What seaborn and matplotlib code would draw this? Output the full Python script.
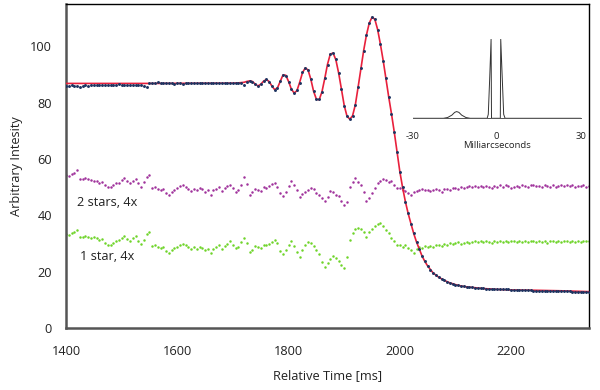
import numpy as np
import pandas as pd
import matplotlib
matplotlib.use("Agg")
import matplotlib.pyplot as plt
import seaborn as sns

# ---------------- data ----------------
time_ms = np.arange(1400, 2345, 5)

star_intensity = [
    86.0, 85.8, 86.1, 85.9, 86.0, 85.6, 86.0, 86.1, 85.9, 86.2,
    86.1, 86.3, 86.2, 86.4, 86.2, 86.3, 86.4, 86.2, 86.3, 86.5,
    86.3, 86.4, 86.3, 86.2, 86.4, 86.3, 86.1, 86.3, 86.0, 85.4,
    86.8, 86.9, 87.0, 87.3, 87.1, 86.9, 87.0, 86.8, 86.9, 86.7,
    86.8, 86.9, 86.7, 86.8, 86.9, 87.0, 86.8, 86.9, 87.1, 86.9,
    87.0, 86.8, 86.9, 87.1, 86.9, 87.0, 86.8, 87.0, 86.9, 86.8,
    87.0, 86.9, 87.1, 86.8, 86.2, 87.3, 87.8, 87.4, 86.5, 85.9,
    86.6, 87.6, 88.3, 87.4, 85.8, 84.5, 85.3, 87.6, 89.9, 89.6,
    87.4, 84.9, 83.3, 84.3, 87.1, 90.7, 92.2, 91.7, 88.2, 84.1,
    81.1, 81.1, 83.7, 88.6, 93.5, 97.3, 97.5, 95.3, 90.4, 84.9,
    78.9, 75.3, 74.0, 75.4, 79.1, 85.6, 92.1, 98.4, 104.1, 108.3,
    110.3, 109.7, 105.9, 100.9, 94.9, 88.6, 81.9, 76.1, 69.4, 62.6,
    55.4, 49.9, 44.7, 40.7, 36.9, 33.6, 30.4, 28.1, 25.4, 23.7,
    21.9, 20.6, 19.6, 18.7, 18.0, 17.4, 16.9, 16.4, 16.0, 15.7,
    15.4, 15.1, 14.9, 14.8, 14.6, 14.5, 14.4, 14.3, 14.2, 14.1,
    14.1, 14.0, 14.0, 13.9, 13.9, 13.8, 13.8, 13.7, 13.7, 13.7,
    13.6, 13.6, 13.5, 13.5, 13.5, 13.4, 13.4, 13.4, 13.3, 13.3,
    13.3, 13.2, 13.2, 13.2, 13.1, 13.1, 13.1, 13.1, 13.0, 13.0,
    13.0, 13.0, 12.9, 12.9, 12.9, 12.9, 12.8, 12.8, 12.8,
]

two_stars_residual = [
    54.2, 53.8, 54.5, 55.1, 55.9, 53.0, 52.8, 53.4, 52.9, 52.6,
    52.3, 52.0, 51.4, 51.9, 50.8, 50.2, 50.0, 50.9, 51.4, 51.6,
    52.4, 53.1, 52.0, 51.3, 52.2, 53.0, 51.5, 50.2, 51.8, 53.5,
    54.3, 49.6, 49.9, 49.3, 48.8, 49.3, 47.9, 47.2, 48.3, 49.0,
    49.6, 50.3, 50.8, 50.1, 49.4, 48.7, 49.5, 48.9, 49.6, 49.2,
    48.3, 48.8, 47.2, 48.9, 49.4, 50.0, 48.6, 49.7, 50.3, 50.8,
    49.6, 48.2, 48.9, 50.6, 53.5, 51.0, 47.2, 48.1, 49.3, 49.0,
    48.6, 50.0, 49.8, 50.3, 51.0, 51.6, 50.2, 47.9, 46.9, 48.3,
    50.4, 52.0, 50.9, 49.0, 46.4, 47.6, 48.3, 48.8, 49.6, 49.3,
    48.0, 47.3, 46.2, 44.9, 46.4, 48.5, 48.2, 47.1, 46.7, 45.0,
    43.6, 44.8, 50.2, 51.9, 53.4, 51.8, 50.8, 48.3, 44.9, 46.0,
    47.8, 49.6, 51.4, 52.3, 52.9, 52.4, 51.8, 52.0, 50.8, 49.8,
    49.6, 49.0, 48.6, 47.8, 47.2, 48.3, 48.7, 48.9, 49.2, 48.8,
    49.1, 48.7, 49.0, 49.3, 48.9, 48.4, 49.2, 49.5, 49.1, 49.6,
    49.7, 49.4, 50.0, 49.8, 50.2, 50.4, 49.9, 50.3, 50.1, 50.5,
    50.0, 50.3, 50.1, 49.8, 50.4, 50.2, 50.6, 50.1, 50.8, 50.3,
    49.7, 50.2, 50.5, 50.0, 50.7, 50.4, 50.1, 50.6, 50.8, 50.3,
    50.5, 50.2, 50.7, 50.4, 50.2, 50.6, 50.0, 50.5, 50.8, 50.4,
    50.8, 50.3, 50.6, 50.1, 50.5, 50.3, 50.7, 50.2, 50.5,
]

one_star_residual = [
    33.4, 33.0, 33.6, 34.2, 34.8, 32.4, 32.3, 32.7, 32.2, 31.9,
    32.3, 32.0, 31.1, 31.5, 30.3, 29.5, 29.4, 30.3, 31.0, 31.2,
    31.9, 32.7, 31.5, 30.8, 31.8, 32.6, 31.0, 29.8, 31.4, 33.4,
    34.1, 29.0, 29.3, 28.8, 28.3, 28.6, 27.2, 26.5, 27.6, 28.3,
    28.9, 29.5, 29.9, 29.3, 28.6, 27.9, 28.7, 28.0, 28.8, 28.4,
    27.6, 28.1, 26.5, 28.2, 28.7, 29.3, 27.9, 29.0, 29.9, 30.7,
    29.5, 28.3, 28.9, 30.4, 32.0, 30.2, 27.1, 27.8, 29.0, 28.9,
    28.5, 29.6, 29.5, 29.9, 30.6, 31.2, 30.1, 27.5, 26.3, 27.7,
    29.6, 30.7, 29.2, 27.0, 25.3, 27.6, 29.4, 30.4, 30.0, 29.1,
    27.7, 26.2, 23.5, 21.8, 23.0, 24.4, 25.6, 24.8, 23.6, 22.4,
    21.2, 25.3, 31.3, 33.6, 35.0, 35.6, 35.3, 33.9, 32.4, 34.0,
    35.3, 36.2, 36.9, 37.4, 36.3, 34.9, 33.6, 31.9, 30.9, 29.5,
    29.5, 28.8, 29.5, 28.3, 27.6, 26.7, 27.9, 28.7, 28.5, 29.0,
    28.8, 29.2, 28.9, 29.4, 29.6, 29.2, 29.8, 29.5, 30.0, 29.7,
    30.1, 30.4, 29.9, 30.3, 30.6, 30.2, 30.5, 30.8, 30.4, 30.7,
    30.5, 30.9, 30.6, 30.3, 30.8, 30.6, 31.0, 30.5, 30.8, 30.4,
    30.7, 30.9, 30.4, 30.8, 30.6, 31.0, 30.5, 30.8, 30.7, 30.4,
    30.9, 30.6, 30.8, 30.3, 30.7, 31.0, 30.5, 30.8, 30.6, 30.9,
    30.7, 30.4, 30.9, 30.6, 30.8, 30.5, 30.9, 30.7, 30.8,
]

fit_time = [1400, 1550, 1700, 1710, 1715, 1720, 1725, 1730, 1735, 1740,
            1745, 1750, 1755, 1760, 1765, 1770, 1775, 1780, 1785, 1790,
            1795, 1800, 1805, 1810, 1815, 1820, 1825, 1830, 1835, 1840,
            1845, 1850, 1855, 1860, 1865, 1870, 1875, 1880, 1885, 1890,
            1895, 1900, 1905, 1910, 1915, 1920, 1925, 1930, 1935, 1940,
            1945, 1950, 1955, 1960, 1965, 1970, 1975, 1980, 1985, 1990,
            1995, 2000, 2005, 2010, 2015, 2020, 2025, 2030, 2035, 2040,
            2045, 2050, 2060, 2070, 2080, 2090, 2100, 2110, 2120, 2135,
            2150, 2175, 2200, 2240, 2290, 2340]
fit_value = [86.8, 86.8, 86.9, 87.0, 87.1, 87.2, 87.5, 87.7, 87.5, 86.6,
             85.9, 86.5, 87.6, 88.2, 87.5, 85.9, 84.6, 85.2, 87.5, 89.8,
             89.7, 87.5, 84.8, 83.4, 84.2, 87.2, 90.6, 92.3, 91.6, 88.3,
             84.0, 81.2, 81.0, 83.8, 88.5, 93.6, 97.2, 97.6, 95.2, 90.5,
             84.8, 79.0, 75.2, 74.1, 75.3, 79.2, 85.5, 92.0, 98.5, 104.0,
             108.2, 110.3, 109.6, 106.0, 100.8, 95.0, 88.5, 82.0, 76.0, 69.5,
             62.5, 55.5, 49.8, 44.8, 40.6, 37.0, 33.5, 30.5, 28.0, 25.5,
             23.6, 22.0, 19.5, 18.0, 16.9, 16.0, 15.4, 14.9, 14.6, 14.3,
             14.0, 13.7, 13.5, 13.4, 13.2, 12.9]

inset_mas = [-30, -19, -17.5, -16, -15, -14.3, -13.5, -12.5, -11, -9.5,
             -3.4, -3.0, -2.5, -2.0, -1.85, 1.3, 1.45, 2.0, 2.5, 3.0, 30]
inset_brightness = [0, 0, 0.01, 0.04, 0.075, 0.085, 0.075, 0.04, 0.01, 0,
                    0, 0.05, 0.5, 1.0, 0.0, 0.0, 1.0, 0.5, 0.05, 0, 0]

x_ticks = [1400, 1600, 1800, 2000, 2200]
y_ticks = [0, 20, 40, 60, 80, 100]
inset_ticks = [-30, 0, 30]
x_label = "Relative Time [ms]"
y_label = "Arbitrary Intesity"
inset_label = "Milliarcseconds"
label_two = "2 stars, 4x"
label_one = "1 star, 4x"

assert len(time_ms) == len(star_intensity) == len(two_stars_residual) == len(one_star_residual)
assert len(fit_time) == len(fit_value)
assert len(inset_mas) == len(inset_brightness)

# ---------------- style ----------------
sns.set_style("white")
plt.rcParams['font.family'] = ['Open Sans', 'DejaVu Sans']
FS = 9.2

df = pd.DataFrame({"t": time_ms, "star": star_intensity,
                   "two": two_stars_residual, "one": one_star_residual})
fit_df = pd.DataFrame({"t": fit_time, "v": fit_value})
inset_df = pd.DataFrame({"mas": inset_mas, "b": inset_brightness})

fig = plt.figure(figsize=(6.0, 3.9), dpi=100)
ax = fig.add_axes([0.11, 0.159, 0.8717, 0.8308])

sns.scatterplot(data=df, x="t", y="two", ax=ax, color="#a0339c", s=3.2,
                linewidth=0, zorder=2)
sns.scatterplot(data=df, x="t", y="one", ax=ax, color="#6fd42a", s=3.2,
                linewidth=0, zorder=2)
sns.lineplot(data=fit_df, x="t", y="v", ax=ax, color="#e8203c", linewidth=1.2,
             zorder=3, estimator=None, sort=False)
sns.scatterplot(data=df, x="t", y="star", ax=ax, color="#1d3461", s=4.5,
                linewidth=0, zorder=4)

ax.set_xlim(1400, 2340)
ax.set_ylim(0, 115)
ax.set_xticks(x_ticks)
ax.set_xticklabels([str(v) for v in x_ticks])
ax.set_yticks(y_ticks)
ax.set_yticklabels([str(v) for v in y_ticks])
ax.tick_params(axis="x", direction="in", length=4, width=1.2, color="#555555",
               pad=12.5, labelsize=FS, labelcolor="#222222")
ax.tick_params(axis="y", direction="in", length=4, width=1.2, color="#555555",
               pad=10, labelsize=FS, labelcolor="#222222")
ax.set_xlabel(x_label, fontsize=FS, color="#222222", labelpad=8)
ax.set_ylabel(y_label, fontsize=FS, color="#222222", labelpad=5)

for side in ["left", "bottom"]:
    ax.spines[side].set_color("#555555")
    ax.spines[side].set_linewidth(1.8)
for side in ["top", "right"]:
    ax.spines[side].set_color("#000000")
    ax.spines[side].set_linewidth(1.0)

ax.text(1419, 44.5, label_two, fontsize=FS, color="#222222", va="center", ha="left")
ax.text(1426, 25.2, label_one, fontsize=FS, color="#222222", va="center", ha="left")

# ---------------- inset ----------------
iax = fig.add_axes([0.6878, 0.6967, 0.28, 0.2026])
iax.patch.set_alpha(0)
sns.lineplot(data=inset_df, x="mas", y="b", ax=iax, color="#333333",
             linewidth=0.7, estimator=None, sort=False)
iax.set_xlim(-30, 30)
iax.set_ylim(0, 1)
for side in ["left", "top", "right"]:
    iax.spines[side].set_visible(False)
iax.spines["bottom"].set_color("#555555")
iax.spines["bottom"].set_linewidth(0.7)
iax.set_yticks([])
iax.set_xticks(inset_ticks)
iax.set_xticklabels([str(v) for v in inset_ticks])
iax.tick_params(axis="x", direction="in", length=3, width=0.7, color="#555555",
                pad=10, labelsize=6.8, labelcolor="#222222")
iax.set_xlabel(inset_label, fontsize=6.8, color="#222222", labelpad=0)
iax.set_ylabel("")

fig.savefig("out.png", dpi=100)
